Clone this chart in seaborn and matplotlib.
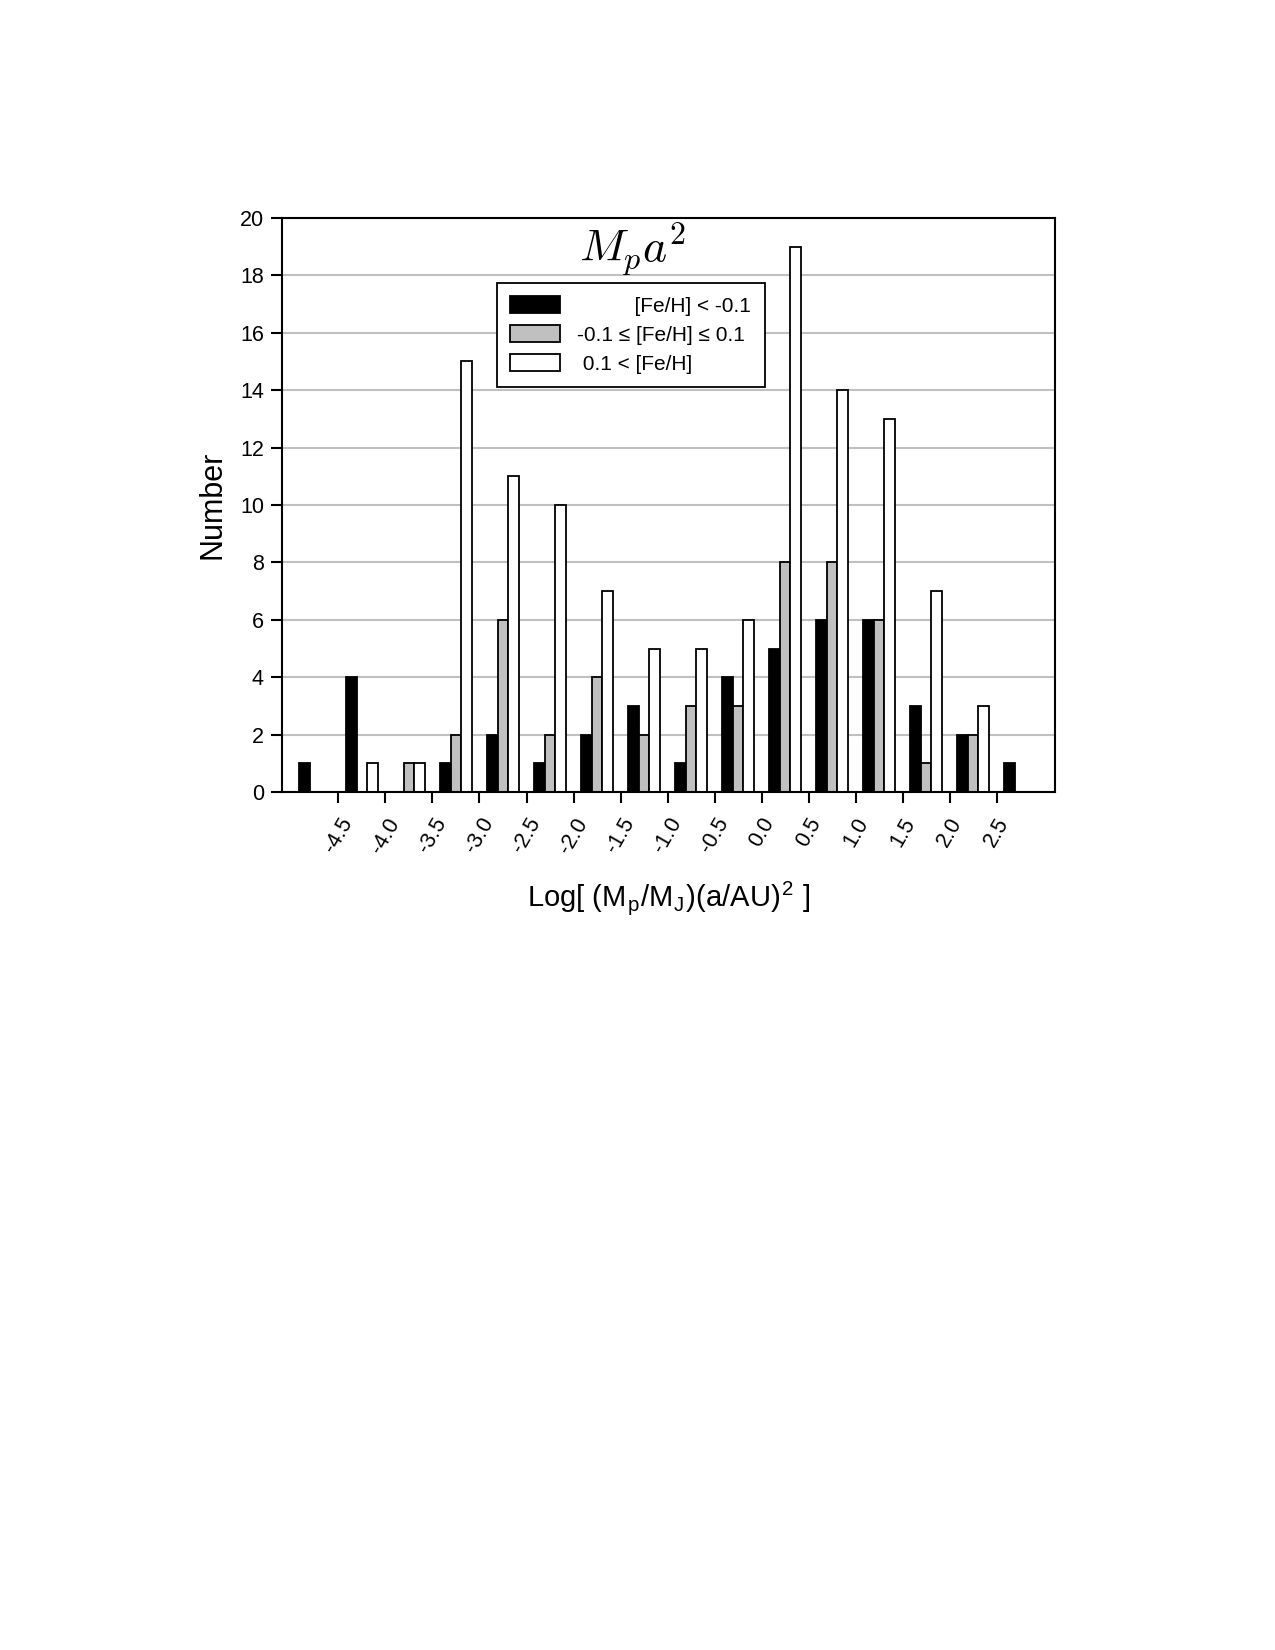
import matplotlib
matplotlib.use("Agg")
import matplotlib.pyplot as plt
import seaborn as sns
import pandas as pd

# ---- data ----
bin_centers = [-4.75, -4.25, -3.75, -3.25, -2.75, -2.25, -1.75, -1.25,
               -0.75, -0.25, 0.25, 0.75, 1.25, 1.75, 2.25, 2.75]
low_feh = [1, 4, 0, 1, 2, 1, 2, 3, 1, 4, 5, 6, 6, 3, 2, 1]
mid_feh = [0, 0, 1, 2, 6, 2, 4, 2, 3, 3, 8, 8, 6, 1, 2, 0]
high_feh = [0, 1, 1, 15, 11, 10, 7, 5, 5, 6, 19, 14, 13, 7, 3, 0]
x_ticks = [-4.5, -4.0, -3.5, -3.0, -2.5, -2.0, -1.5, -1.0, -0.5,
           0.0, 0.5, 1.0, 1.5, 2.0, 2.5]
x_tick_labels = ["-4.5", "-4.0", "-3.5", "-3.0", "-2.5", "-2.0", "-1.5", "-1.0",
                 "-0.5", "0.0", "0.5", "1.0", "1.5", "2.0", "2.5"]
y_ticks = [0, 2, 4, 6, 8, 10, 12, 14, 16, 18, 20]
series_keys = ["low", "mid", "high"]
series_labels = ["          [Fe/H] < -0.1",
                 "-0.1 \u2264 [Fe/H] \u2264 0.1",
                 " 0.1 < [Fe/H]"]
series_colors = ["black", "#c0c0c0", "white"]

rows = []
for key, vals in zip(series_keys, [low_feh, mid_feh, high_feh]):
    for c, v in zip(bin_centers, vals):
        rows.append({"center": c, "count": v, "group": key})
df = pd.DataFrame(rows)

sns.set_style("ticks")
plt.rcParams["font.family"] = ["Liberation Sans", "DejaVu Sans"]
plt.rcParams["mathtext.fontset"] = "cm"
for k in ["text.color", "axes.labelcolor", "xtick.color", "ytick.color",
          "xtick.labelcolor", "ytick.labelcolor"]:
    plt.rcParams[k] = "black"

fig = plt.figure(figsize=(12.75, 16.5), dpi=100)
ax = fig.add_axes([282 / 1275, 1 - 792 / 1650, (1055 - 282) / 1275, (792 - 218) / 1650])

sns.barplot(data=df, x="center", y="count", hue="group", hue_order=series_keys,
            palette=dict(zip(series_keys, series_colors)), native_scale=True,
            width=0.67, dodge=True, errorbar=None, edgecolor="black",
            linewidth=1.3, saturation=1, ax=ax)

ax.set_xlim(-5.1, 3.12)
ax.set_ylim(0, 20)
ax.set_xticks(x_ticks)
ax.set_xticklabels(x_tick_labels, rotation=60, ha="center", fontsize=15.5)
ax.set_yticks(y_ticks)
ax.set_yticklabels([str(t) for t in y_ticks], fontsize=15.5)
ax.tick_params(axis="both", direction="out", length=8, width=1.5, colors="black")
ax.tick_params(axis="x", pad=8)
ax.tick_params(axis="y", pad=5)
ax.set_axisbelow(True)
ax.yaxis.grid(True, color="#c0c0c0", linewidth=1.5)
ax.xaxis.grid(False)
for s in ax.spines.values():
    s.set_visible(True)
    s.set_linewidth(1.5)
    s.set_color("black")

ax.set_xlabel(r"Log[ (M$_\mathregular{p}$/M$_\mathregular{J}$)(a/AU)$^\mathregular{2}$ ]",
              fontsize=21, labelpad=16)
ax.set_ylabel("Number", fontsize=22, labelpad=9)

ax.text(0.453, 0.923, r"$M_p a^2$", transform=ax.transAxes, ha="center",
        va="baseline", fontsize=33)

handles, _ = ax.get_legend_handles_labels()
leg = ax.legend(handles, series_labels, loc="upper left",
                bbox_to_anchor=(0.278, 0.887), borderaxespad=0, fontsize=15,
                frameon=True, fancybox=False, edgecolor="black", framealpha=1,
                handlelength=2.4, handleheight=0.85, handletextpad=0.8,
                labelspacing=0.45, borderpad=0.65)
leg.get_frame().set_linewidth(1.3)

fig.savefig("out.png", dpi=100)
